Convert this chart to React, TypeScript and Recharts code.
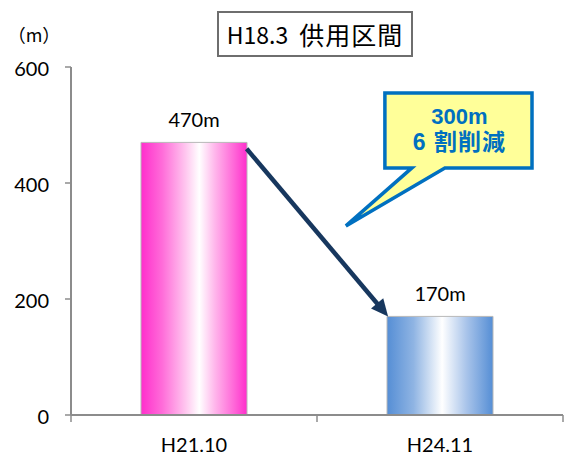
import React from 'react';
import { BarChart, Bar, XAxis, YAxis, LabelList, ReferenceLine, ReferenceArea, Cell } from 'recharts';

const categories = ['H21.10', 'H24.11'];
const lengths = [470, 170];
const yTicks = [0, 200, 400, 600];
const titleParts = ['H18.3', '供用区間'];
const unitText = '（m）';
const calloutLines = ['300m', '6 割削減'];
const barGradients = ['gradPink', 'gradBlue'];

// annotation anchors in data coordinates (x: category slot position, y: metres)
const arrowFrom = { x: 0.714, y: 459 };
const arrowTo = { x: 1.289, y: 170 };
const calloutBox = { x1: 1.276, x2: 1.874, y1: 426, y2: 555 };

const data = categories.map((c, i) => ({ pos: i + 0.5, name: c, value: lengths[i] }));
const xTicks = [0, 0.5, 1, 1.5, 2];

const FONT = 'Lato, "Noto Sans CJK JP", sans-serif';

const XTick = (props: any) => {
  const { x, y, payload } = props;
  const v = payload.value as number;
  if (Number.isInteger(v)) {
    return <line x1={x} y1={y} x2={x} y2={y + 7} stroke="#8c8c8c" strokeWidth={1.5} />;
  }
  const idx = Math.floor(v);
  return (
    <text x={x} y={y + 37} textAnchor="middle" fontSize={20} fill="#000" fontFamily={FONT}>
      {categories[idx]}
    </text>
  );
};

const YTick = (props: any) => {
  const { x, y, payload } = props;
  return (
    <text x={x} y={y + 9} textAnchor="end" fontSize={20} fill="#000" fontFamily={FONT}>
      {payload.value}
    </text>
  );
};

const Arrow = (p: any) => {
  const { x1, y1, x2, y2 } = p;
  const dx = x2 - x1;
  const dy = y2 - y1;
  const len = Math.hypot(dx, dy);
  const ux = dx / len;
  const uy = dy / len;
  const head = 17;
  const half = 8;
  const bx = x2 - ux * head;
  const by = y2 - uy * head;
  return (
    <g>
      <line x1={x1} y1={y1} x2={bx + ux * 3} y2={by + uy * 3} stroke="#17375E" strokeWidth={4.5} />
      <polygon
        points={`${x2},${y2} ${bx - uy * half},${by + ux * half} ${bx + uy * half},${by - ux * half}`}
        fill="#17375E"
      />
    </g>
  );
};

const CALLOUT_FONT = '"Liberation Sans", "Noto Sans CJK JP", sans-serif';

const Callout = (p: any) => {
  const { x, y, width, height } = p;
  const L = x;
  const R = x + width;
  const T = y;
  const B = y + height;
  const path = `M${L},${T} L${R},${T} L${R},${B} L${L + 60},${B} L${L - 39},${B + 58} L${L + 27},${B} L${L},${B} Z`;
  const cx = L + width / 2 + 1;
  return (
    <g>
      <path d={path} fill="#FFFF99" stroke="#0070C0" strokeWidth={3.5} strokeLinejoin="miter" />
      <text x={cx} y={T + 31} textAnchor="middle" fontSize={22} fontWeight="bold" fill="#0070C0" fontFamily={CALLOUT_FONT}>
        {calloutLines[0]}
      </text>
      <text x={cx} y={T + 57} textAnchor="middle" fontSize={23} fontWeight="bold" fill="#0070C0" fontFamily={CALLOUT_FONT} letterSpacing={1}>
        {calloutLines[1]}
      </text>
    </g>
  );
};

export default function App() {
  return (
    <div style={{ position: 'absolute', left: 0, top: 0, width: 564, height: 455, background: '#fff' }}>
      <BarChart
        width={564}
        height={455}
        data={data}
        margin={{ top: 67, right: 1, bottom: 0, left: 0 }}
      >
        <defs>
          <linearGradient id="gradPink" x1="0" y1="0" x2="1" y2="0">
            <stop offset="0" stopColor="#FF2ECC" />
            <stop offset="0.2" stopColor="#FF6CD9" />
            <stop offset="0.42" stopColor="#FFC6EF" />
            <stop offset="0.55" stopColor="#FFFFFF" />
            <stop offset="0.7" stopColor="#FFB5EB" />
            <stop offset="0.88" stopColor="#FF66D8" />
            <stop offset="1" stopColor="#FF2ECC" />
          </linearGradient>
          <linearGradient id="gradBlue" x1="0" y1="0" x2="1" y2="0">
            <stop offset="0" stopColor="#558ED5" />
            <stop offset="0.25" stopColor="#8FB4E3" />
            <stop offset="0.52" stopColor="#FFFFFF" />
            <stop offset="0.75" stopColor="#A9C4EA" />
            <stop offset="1" stopColor="#558ED5" />
          </linearGradient>
        </defs>
        <XAxis
          dataKey="pos"
          type="number"
          domain={[0, 2]}
          ticks={xTicks}
          interval={0}
          height={40}
          tickLine={false}
          tickSize={0}
          tickMargin={0}
          tick={<XTick />}
          axisLine={{ stroke: '#8c8c8c', strokeWidth: 2 }}
        />
        <YAxis
          type="number"
          domain={[0, 600]}
          ticks={yTicks}
          interval={0}
          width={71}
          tickSize={6}
          tickMargin={16}
          tickLine={{ stroke: '#8c8c8c', strokeWidth: 1.5 }}
          axisLine={{ stroke: '#8c8c8c', strokeWidth: 2 }}
          tick={<YTick />}
        />
        <Bar dataKey="value" barSize={106} isAnimationActive={false}>
          {data.map((d, i) => (
            <Cell key={d.name} fill={`url(#${barGradients[i]})`} stroke="#b8b8b8" strokeWidth={1} />
          ))}
          <LabelList
            dataKey="value"
            position="top"
            offset={15}
            formatter={(v: any) => `${v}m`}
            fill="#000"
            fontSize={20}
            fontFamily={FONT}
          />
        </Bar>
        <ReferenceLine segment={[arrowFrom, arrowTo]} ifOverflow="visible" shape={<Arrow />} />
        <ReferenceArea
          x1={calloutBox.x1}
          x2={calloutBox.x2}
          y1={calloutBox.y1}
          y2={calloutBox.y2}
          ifOverflow="visible"
          shape={<Callout />}
        />
      </BarChart>
      <div
        style={{
          position: 'absolute',
          left: 217,
          top: 11,
          width: 196,
          height: 46,
          boxSizing: 'border-box',
          border: '2px solid #6e6e6e',
          display: 'flex',
          alignItems: 'center',
          justifyContent: 'center',
          fontFamily: '"Noto Sans CJK JP", sans-serif',
          color: '#000',
          whiteSpace: 'pre',
          background: '#fff',
        }}
      >
        <span style={{ fontSize: 23 }}>{titleParts[0]}</span>
        <span style={{ fontSize: 25, marginLeft: 11, letterSpacing: 1 }}>{titleParts[1]}</span>
      </div>
      <div
        style={{
          position: 'absolute',
          left: 4,
          top: 24,
          width: 60,
          textAlign: 'center',
          fontFamily: '"Noto Sans CJK JP", sans-serif',
          fontSize: 18,
          lineHeight: '20px',
          color: '#000',
        }}
      >
        {unitText}
      </div>
    </div>
  );
}
